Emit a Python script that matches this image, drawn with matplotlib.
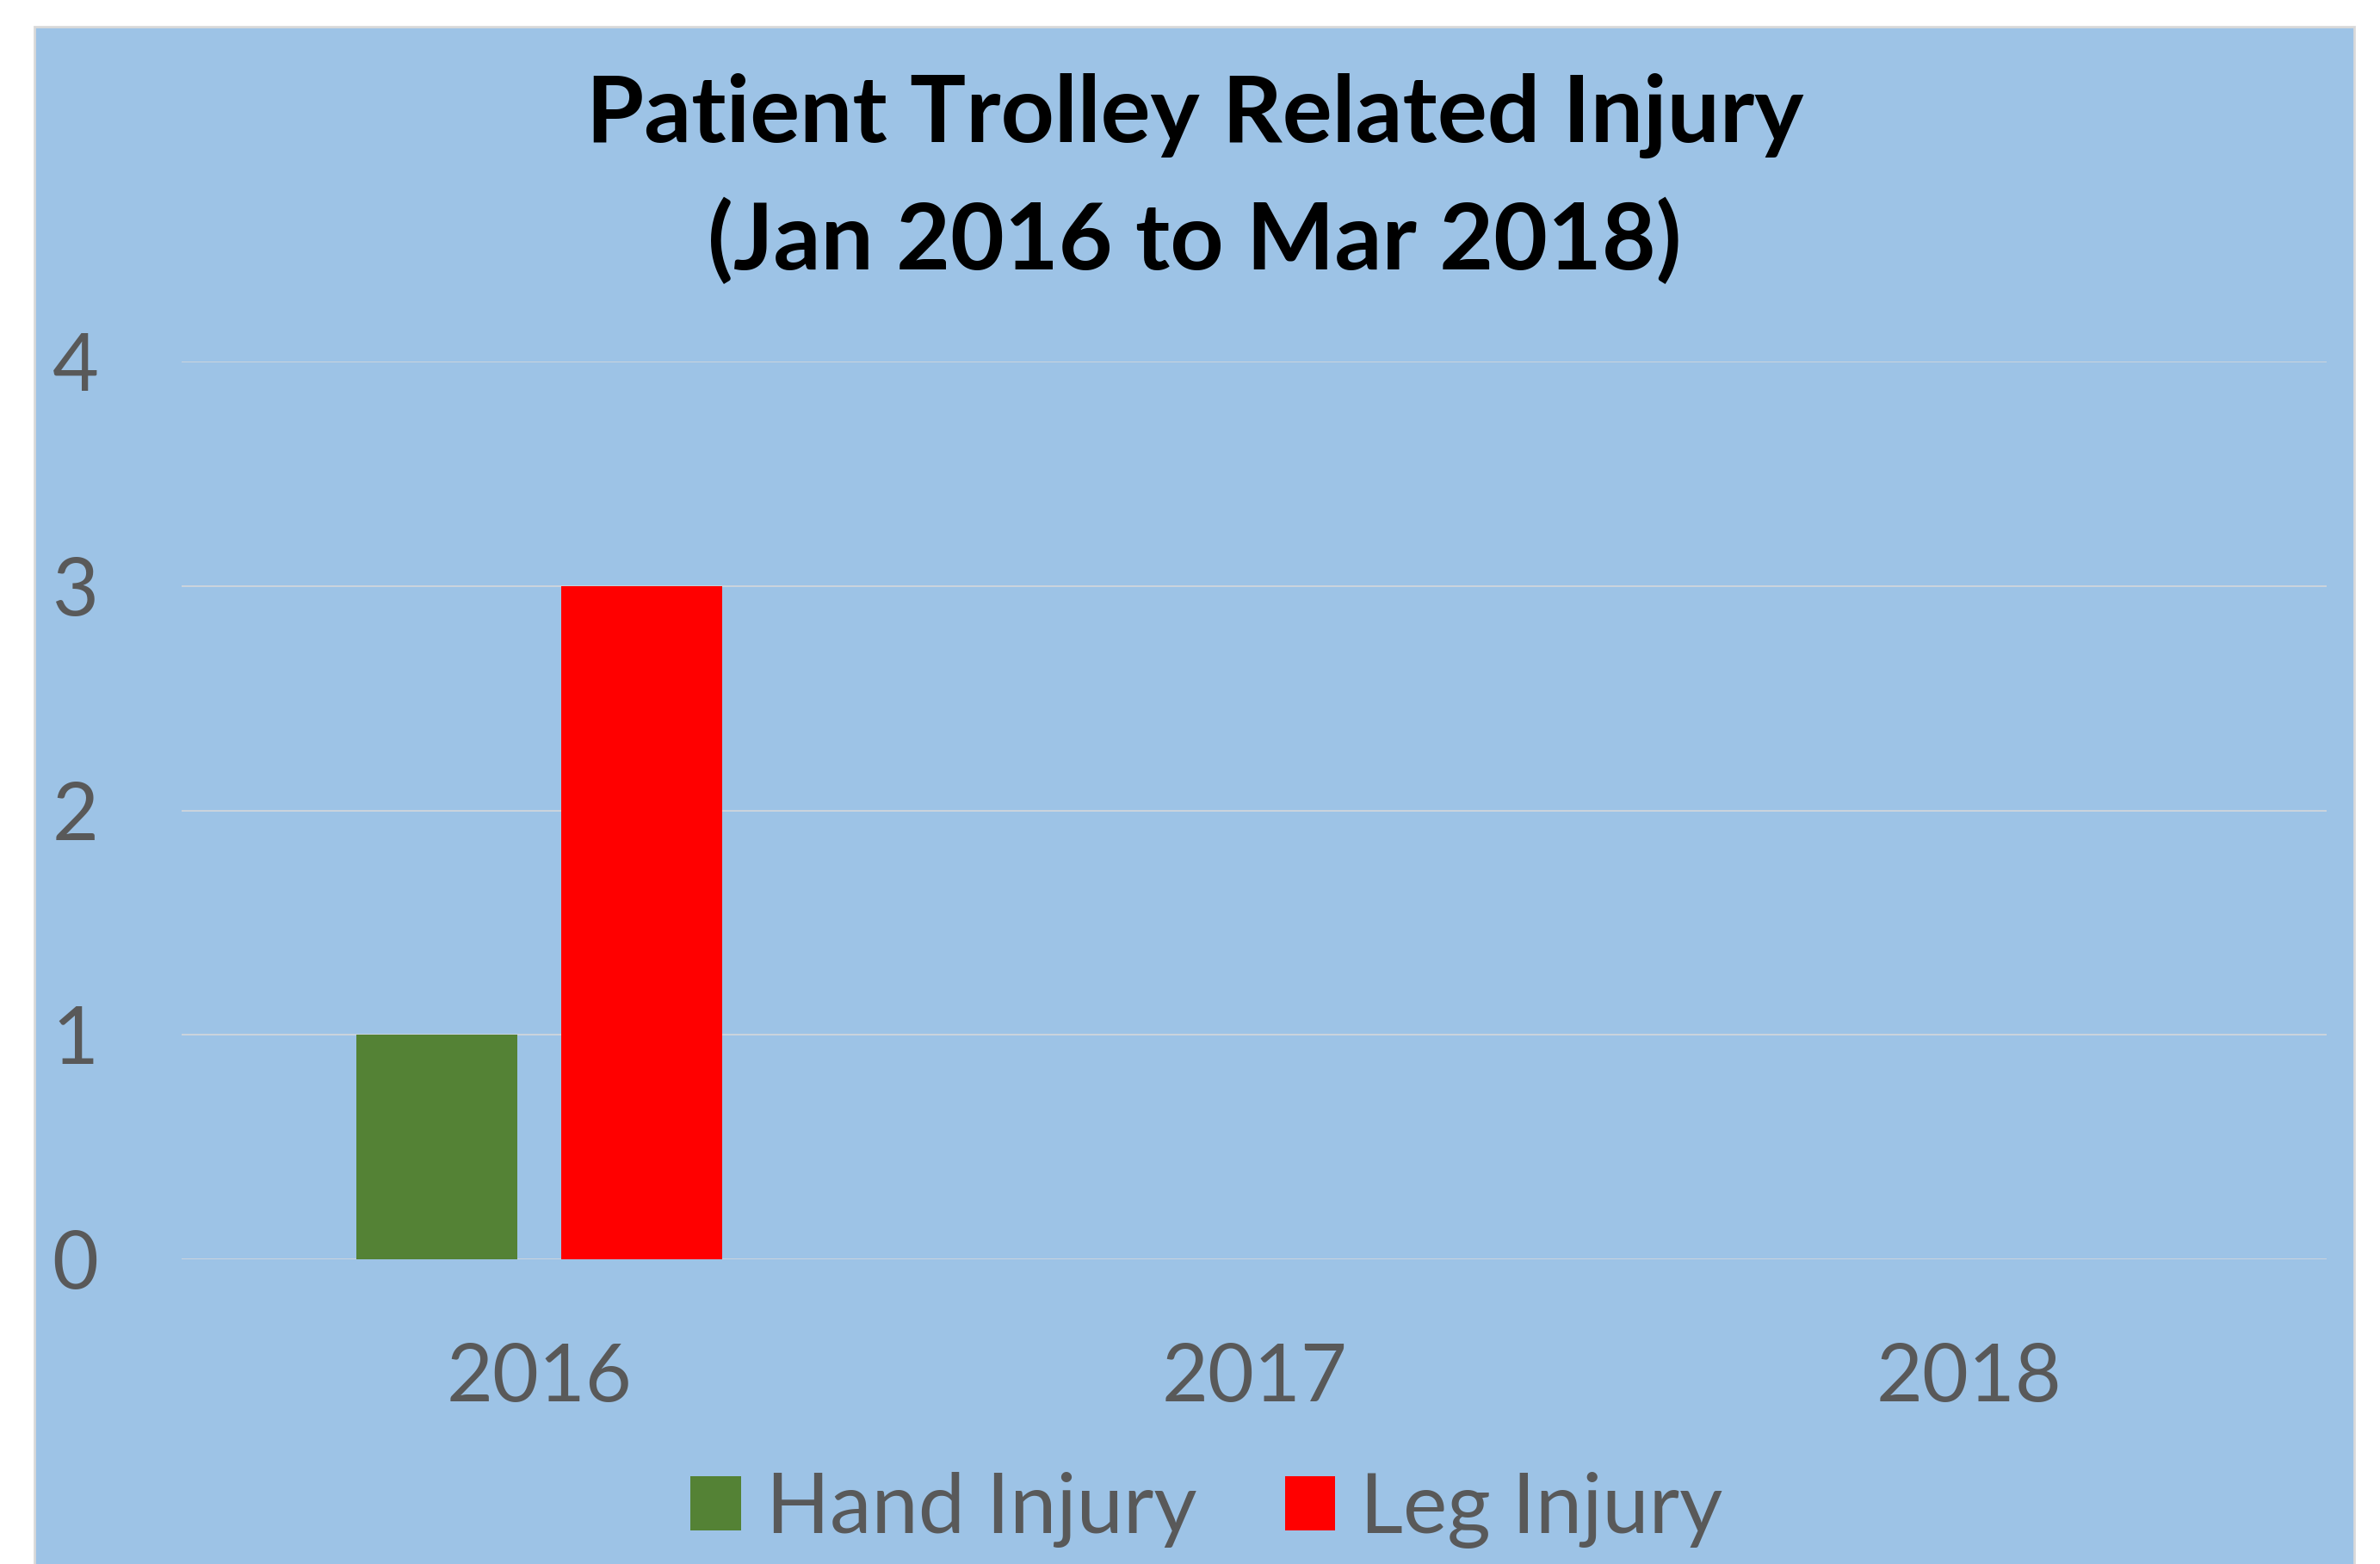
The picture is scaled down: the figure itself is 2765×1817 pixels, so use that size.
import matplotlib.pyplot as plt
from matplotlib.patches import Rectangle, Patch

# data
years = ['2016', '2017', '2018']
hand_injury = [1, 0, 0]
leg_injury = [3, 0, 0]
y_ticks = [0, 1, 2, 3, 4]

plt.rcParams['font.family'] = ['Lato', 'DejaVu Sans']
text_col = '#595959'

fig = plt.figure(figsize=(27.65, 18.17), dpi=100)

# blue chart area behind everything
fig.patches.append(Rectangle((40 / 2765, -0.05), (2735 - 40) / 2765, 1.05 - 31 / 1817,
                             transform=fig.transFigure, facecolor='#9DC3E6',
                             edgecolor='#D9D9D9', linewidth=2, zorder=-1))

ax = fig.add_axes([211 / 2765, 1 - 1463 / 1817, (2703 - 211) / 2765, (1463 - 420) / 1817])
ax.set_facecolor('none')

x = list(range(len(years)))
w = 0.225
off = 0.143
ax.bar([i - off for i in x], hand_injury, width=w, color='#548235', label='Hand Injury', zorder=3)
ax.bar([i + off for i in x], leg_injury, width=w, color='#FF0000', label='Leg Injury', zorder=3)

ax.set_xlim(-0.5, 2.5)
ax.set_ylim(0, 4)
ax.set_yticks(y_ticks)
ax.set_yticklabels([str(t) for t in y_ticks], ha='center')
ax.set_xticks(x)
ax.set_xticklabels(years)
ax.tick_params(axis='y', length=0, pad=89, labelsize=67, labelcolor=text_col)
ax.tick_params(axis='x', length=0, pad=70, labelsize=67, labelcolor=text_col)
ax.yaxis.grid(True, color='#D9D9D9', linewidth=1.1, zorder=1)
ax.set_axisbelow(True)
for s in ax.spines.values():
    s.set_visible(False)

fig.text(0.502, 1 - 208 / 1817, 'Patient Trolley Related Injury\n(Jan 2016 to Mar 2018)',
         ha='center', va='center', fontsize=78, fontweight='bold', color='black',
         linespacing=1.55)

handles = [Patch(facecolor='#548235'), Patch(facecolor='#FF0000')]
fig.legend(handles, ['Hand Injury', 'Leg Injury'], loc='center',
           bbox_to_anchor=(0.507, 1 - 1754 / 1817), ncol=2, frameon=False,
           fontsize=70, labelcolor=text_col, handlelength=0.6, handleheight=0.62,
           handletextpad=0.3, columnspacing=1.05, borderpad=0, borderaxespad=0)

fig.savefig('out.png', dpi=100, facecolor='white')
